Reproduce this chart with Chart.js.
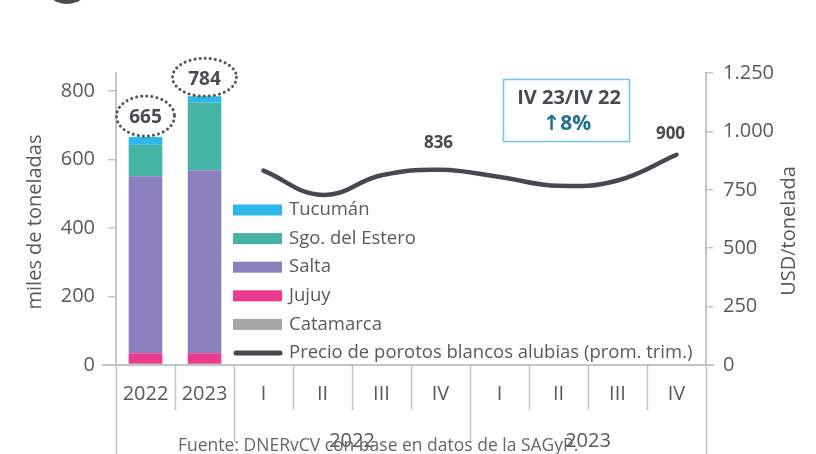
<!DOCTYPE html>
<html><head><meta charset="utf-8">
<script src="https://cdn.jsdelivr.net/npm/chart.js@4"></script>
<style>html,body{margin:0;padding:0;background:#fff}#wrap{width:816px;height:454px;position:relative}</style>
</head><body><div id="wrap"><canvas id="c" width="816" height="454"></canvas></div>
<script>
// ---- data ----
const categories = ['2022','2023','I','II','III','IV','I','II','III','IV'];
const groupLabels = ['2022','2023'];
const catamarca = [4, 4];
const jujuy = [30, 30];
const salta = [517, 534];
const sgoDelEstero = [92, 198];
const tucuman = [22, 18];
const totals = [665, 784];
const precio = [832, 728, 812, 836, 805, 767, 790, 900];
const precioLabels = {3: '836', 7: '900'};
const leftTicks = [0, 200, 400, 600, 800];
const rightTicks = [0, 250, 500, 750, 1000, 1250];
const boxTitle = 'IV 23/IV 22';
const boxValue = '↑8%';
const sourceText = 'Fuente: DNERvCV con base en datos de la SAGyP.';
const leftTitle = 'miles de toneladas';
const rightTitle = 'USD/tonelada';

const FONT = '"Open Sans", "DejaVu Sans", sans-serif';
const TXT = '#595959';
const AX = '#c4c4c4';

const nB = categories.length - totals.length;
const padBar = a => a.concat(Array(nB).fill(null));
const lineData = Array(totals.length).fill(null).concat(precio);

const seriesDefs = [
  {label:'Catamarca', data:catamarca, color:'#a6a6a6'},
  {label:'Jujuy', data:jujuy, color:'#ec3a8c'},
  {label:'Salta', data:salta, color:'#8b80bd'},
  {label:'Sgo. del Estero', data:sgoDelEstero, color:'#46b4a4'},
  {label:'Tucumán', data:tucuman, color:'#2db7ea'}
];
const lineLabel = 'Precio de porotos blancos alubias (prom. trim.)';
const lineColor = '#474751';

const datasets = seriesDefs.map(s => ({
  type:'bar', label:s.label, data:padBar(s.data), backgroundColor:s.color,
  borderWidth:0, yAxisID:'y', categoryPercentage:1, barPercentage:0.57, order:2
}));
datasets.push({
  type:'line', label:lineLabel, data:lineData, yAxisID:'y1',
  borderColor:lineColor, borderWidth:4.5, tension:0.42, pointRadius:0,
  borderCapStyle:'round', fill:false, order:1
});

function fmt(v){ return String(v).replace(/\B(?=(\d{3})+(?!\d))/g,'.'); }

const overlay = {
  id:'overlay',
  afterDraw(chart){
    const ctx = chart.ctx, ca = chart.chartArea;
    const xs = chart.scales.x, ys = chart.scales.y, y1 = chart.scales.y1;
    const step = (ca.right - ca.left) / categories.length;
    ctx.save();
    // partial icon at top-left
    ctx.fillStyle = '#4a4a4a';
    ctx.beginPath(); ctx.arc(67, -21, 25, 0, Math.PI*2); ctx.fill();

    // axis titles (both read bottom-to-top)
    ctx.fillStyle = TXT; ctx.textAlign = 'center'; ctx.textBaseline = 'middle';
    ctx.font = '20px ' + FONT;
    const midY = (ca.top + ca.bottom) / 2 + 3;
    ctx.save(); ctx.translate(35, midY); ctx.rotate(-Math.PI/2); ctx.fillText(leftTitle, 0, 0); ctx.restore();
    ctx.save(); ctx.translate(789, midY + 9); ctx.rotate(-Math.PI/2); ctx.fillText(rightTitle, 0, 0); ctx.restore();

    // axis extension lines & x separators
    ctx.strokeStyle = AX; ctx.lineWidth = 2;
    ctx.beginPath();
    ctx.moveTo(ca.left - 14, ca.bottom); ctx.lineTo(ca.right + 8, ca.bottom);
    ctx.stroke();
    ctx.lineWidth = 1.5;
    for (let i = 0; i <= categories.length; i++) {
      const x = Math.round(ca.left + i*step) + 0.5;
      let bottom = ca.bottom + 45;
      if (i === 0 || i === categories.length) bottom = 454;
      else if (i === totals.length || i === totals.length + 4) bottom = ca.bottom + 77;
      ctx.beginPath(); ctx.moveTo(x, ca.bottom); ctx.lineTo(x, bottom); ctx.stroke();
    }
    // category labels
    ctx.fillStyle = TXT; ctx.textAlign = 'center'; ctx.textBaseline = 'middle';
    ctx.font = '20px ' + FONT;
    categories.forEach((c, i) => {
      ctx.fillText(c, xs.getPixelForValue(i), ca.bottom + 29);
    });
    // group labels
    groupLabels.forEach((g, gi) => {
      const a = totals.length + gi*4, b = a + 3;
      const cx = (xs.getPixelForValue(a) + xs.getPixelForValue(b)) / 2;
      ctx.fillText(g, cx, ca.bottom + 76);
    });
    // source
    ctx.font = '17.5px ' + FONT; ctx.textAlign = 'left'; ctx.fillStyle = '#666';
    ctx.fillText(sourceText, 178, 446);

    // totals with dotted ellipses
    const ellOff = [-21, -19];
    const ell = [[29, 20], [32, 19]];
    totals.forEach((t, i) => {
      const x = xs.getPixelForValue(i);
      const yTop = ys.getPixelForValue(t);
      const cy = yTop + ellOff[i];
      ctx.font = 'bold 19px ' + FONT; ctx.textAlign = 'center'; ctx.fillStyle = '#4a4a52';
      ctx.fillText(String(t), x, cy + 2);
      ctx.strokeStyle = '#55555c'; ctx.lineWidth = 3; ctx.lineCap = 'round';
      ctx.setLineDash([0.1, 5]);
      ctx.beginPath(); ctx.ellipse(x, cy, ell[i][0], ell[i][1], 0, 0, Math.PI*2); ctx.stroke();
      ctx.setLineDash([]);
    });

    // line value labels
    ctx.font = 'bold 17px ' + FONT; ctx.fillStyle = '#4a4a4a'; ctx.textAlign = 'center';
    Object.keys(precioLabels).forEach(k => {
      const i = +k;
      const x = xs.getPixelForValue(i + totals.length);
      const y = y1.getPixelForValue(precio[i]);
      const dy = i === precio.length - 1 ? -21 : -27;
      const dx = i === precio.length - 1 ? -6 : -2;
      ctx.fillText(precioLabels[k], x + dx, y + dy);
    });

    // comparison box
    const bx = 503, by = 79, bw = 126, bh = 62;
    ctx.strokeStyle = '#6cc6e6'; ctx.lineWidth = 1.5;
    ctx.strokeRect(bx + 0.5, by + 0.5, bw, bh);
    ctx.font = 'bold 20px ' + FONT; ctx.fillStyle = '#4a4a52';
    ctx.fillText(boxTitle, bx + bw/2 + 3, by + 19);
    ctx.font = 'bold 21px ' + FONT; ctx.fillStyle = '#1f6f91';
    ctx.fillText(boxValue, bx + bw/2 + 1, by + 45);

    // legend
    const lx = ca.left + 117, ly0 = 210, lh = 28.6;
    const legendItems = seriesDefs.slice().reverse();
    ctx.font = '18.5px ' + FONT; ctx.textAlign = 'left'; ctx.textBaseline = 'middle';
    legendItems.forEach((s, i) => {
      const y = ly0 + i*lh;
      ctx.fillStyle = s.color; ctx.fillRect(lx, y - 5.5, 49, 11);
      ctx.fillStyle = TXT; ctx.fillText(s.label, lx + 56, y);
    });
    const yl = ly0 + legendItems.length*lh;
    ctx.strokeStyle = lineColor; ctx.lineWidth = 5; ctx.lineCap = 'round';
    ctx.beginPath(); ctx.moveTo(lx + 3, yl); ctx.lineTo(lx + 47, yl); ctx.stroke();
    ctx.fillStyle = TXT; ctx.fillText(lineLabel, lx + 56, yl);
    ctx.restore();
  }
};

new Chart(document.getElementById('c'), {
  type:'bar',
  data:{labels:categories, datasets},
  options:{
    responsive:false, animation:false, devicePixelRatio:1,
    layout:{padding:{top:73, left:0, right:0, bottom:0}},
    plugins:{legend:{display:false}, tooltip:{enabled:false}},
    scales:{
      x:{stacked:true, offset:true, grid:{display:false}, border:{display:false},
         ticks:{display:false}, afterFit(s){ s.height = 89; }},
      y:{stacked:true, position:'left', min:0, max:852,
         afterBuildTicks(s){ s.ticks = leftTicks.map(v => ({value:v})); },
         ticks:{color:TXT, font:{family:FONT, size:20}, padding:13},
         grid:{drawOnChartArea:false, tickLength:8, color:AX, lineWidth:1.5},
         border:{color:AX, width:2},
         afterFit(s){ s.width = 116; }},
      y1:{position:'right', min:0, max:1250,
         afterBuildTicks(s){ s.ticks = rightTicks.map(v => ({value:v})); },
         ticks:{color:TXT, font:{family:FONT, size:20}, padding:10, callback:v => fmt(v)},
         grid:{drawOnChartArea:false, tickLength:7, color:AX, lineWidth:1.5},
         border:{color:AX, width:2},
         afterFit(s){ s.width = 110; }}
    }
  },
  plugins:[overlay]
});
</script></body></html>
